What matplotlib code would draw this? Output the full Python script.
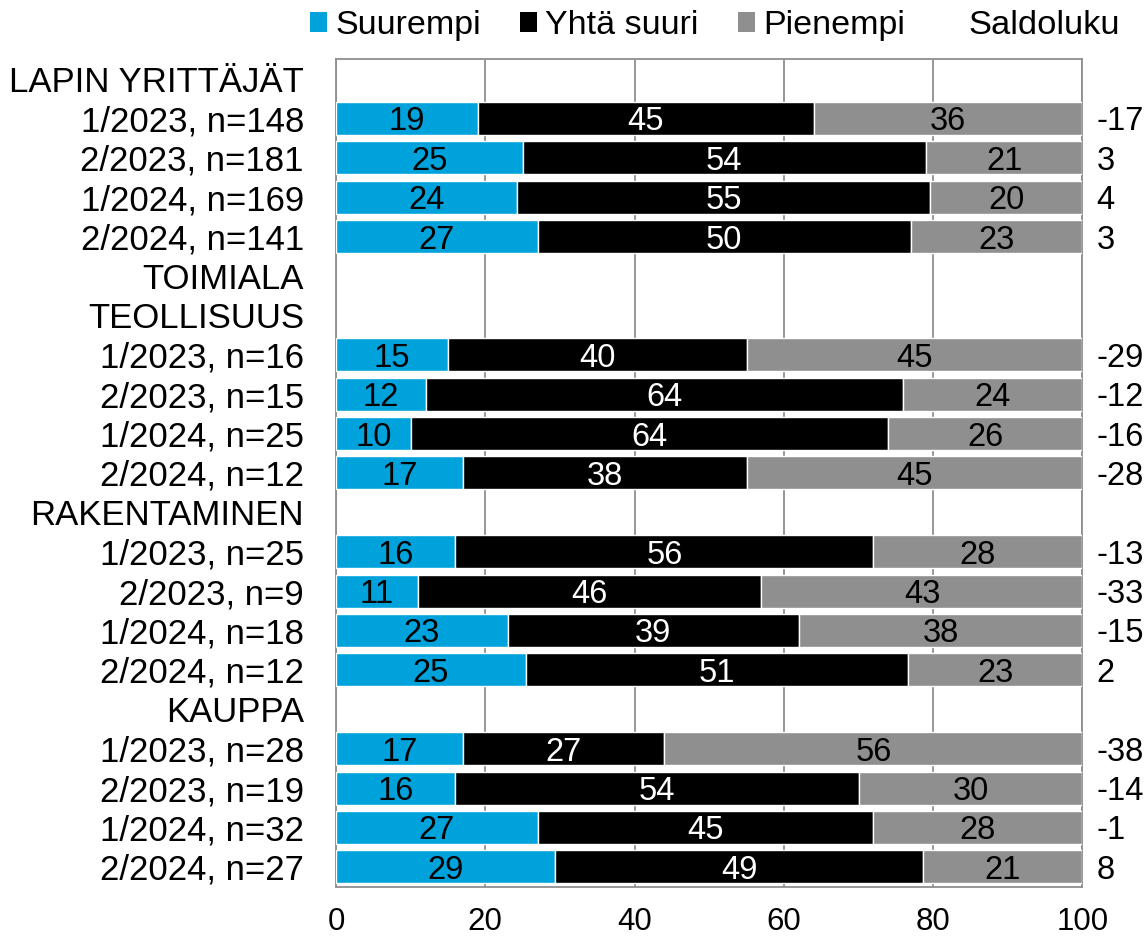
import matplotlib
matplotlib.use("Agg")
import matplotlib.pyplot as plt
from matplotlib.patches import Patch

plt.rcParams['font.family'] = ['Liberation Sans', 'DejaVu Sans']

row_labels = ["LAPIN YRITTÄJÄT", "1/2023, n=148", "2/2023, n=181", "1/2024, n=169", "2/2024, n=141",
              "TOIMIALA", "TEOLLISUUS", "1/2023, n=16", "2/2023, n=15", "1/2024, n=25", "2/2024, n=12",
              "RAKENTAMINEN", "1/2023, n=25", "2/2023, n=9", "1/2024, n=18", "2/2024, n=12",
              "KAUPPA", "1/2023, n=28", "2/2023, n=19", "1/2024, n=32", "2/2024, n=27"]
# shares in percent (labels shown rounded); None = heading row
suurempi = [None, 19, 25, 24.3, 27, None, None, 15, 12, 10, 17, None, 16, 11, 23, 25.4, None, 17, 16, 27, 29.4]
yhta = [None, 45, 54, 55.3, 50, None, None, 40, 64, 64, 38, None, 56, 46, 39, 51.2, None, 27, 54, 45, 49.3]
pienempi = [None, 36, 21, 20.4, 23, None, None, 45, 24, 26, 45, None, 28, 43, 38, 23.4, None, 56, 30, 28, 21.3]
saldo = [None, -17, 3, 4, 3, None, None, -29, -12, -16, -28, None, -13, -33, -15, 2, None, -38, -14, -1, 8]

series_names = ["Suurempi", "Yhtä suuri", "Pienempi"]
colors = ["#00A2DB", "#000000", "#8F8F8F"]
text_colors = ["black", "white", "black"]

fig = plt.figure(figsize=(11.45, 9.41), dpi=100)
ax = fig.add_axes([0.2934, 0.0579, 0.652, 0.879])

n = len(row_labels)
ys = list(range(n))
for i in range(n):
    if suurempi[i] is None:
        continue
    left = 0
    for vals, c, tc in zip([suurempi, yhta, pienempi], colors, text_colors):
        v = vals[i]
        ax.barh(i, v, left=left, height=0.84, color=c, edgecolor="white", linewidth=1.0, zorder=3)
        ax.text(left + v / 2, i, f"{v:.0f}", ha="center", va="center_baseline", color=tc,
                fontsize=23.5, zorder=4)
        left += v
    ax.text(101.9, i, str(saldo[i]), ha="left", va="center_baseline", fontsize=23.5, color="black",
            clip_on=False)

ax.set_ylim(n - 0.5, -0.5)
ax.set_xlim(0, 100)
ax.set_yticks(ys)
ax.set_yticklabels(row_labels, fontsize=25)
ax.set_xticks([0, 20, 40, 60, 80, 100])
ax.tick_params(axis="x", labelsize=22.5, length=0, pad=15)
ax.tick_params(axis="y", length=0, pad=23)
ax.grid(axis="x", color="#8F8F8F", linewidth=1.3, zorder=0)
ax.set_axisbelow(True)
for s in ["left", "top", "right", "bottom"]:
    ax.spines[s].set_color("#8F8F8F")
    ax.spines[s].set_linewidth(1.3)

handles = [Patch(facecolor=c, edgecolor="none") for c in colors]
fig.legend(handles, series_names, loc="upper left", bbox_to_anchor=(310 / 1145, 931 / 941), ncol=3,
           frameon=False, fontsize=24.5, handlelength=0.5, handleheight=0.53, handletextpad=0.24,
           columnspacing=1.15, borderpad=0, borderaxespad=0)
fig.text(968 / 1145, (941 - 34) / 941, "Saldoluku", ha="left", va="baseline", fontsize=24.8)

fig.savefig("out.png", dpi=100)
